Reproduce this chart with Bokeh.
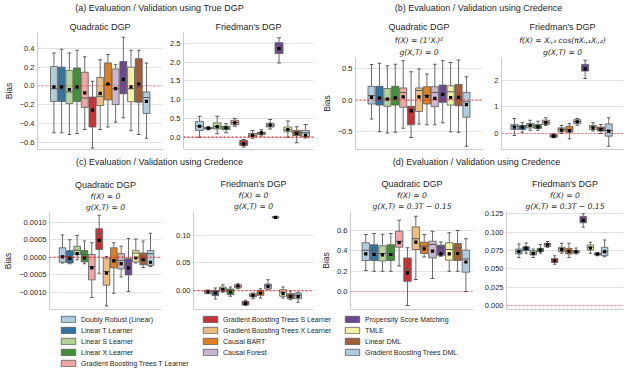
import colorsys
from bokeh.plotting import figure
from bokeh.layouts import column, row
from bokeh.models import (ColumnDataSource, Range1d, FixedTicker, Span,
                          Title, Legend, LegendItem)
from bokeh.embed import file_html
from bokeh.resources import INLINE

# ---------------- data ----------------
METHODS = ["Doubly Robust (Linear)", "Linear T Learner", "Linear S Learner", "Linear X Learner",
           "Gradient Boosting Trees T Learner", "Gradient Boosting Trees S Learner",
           "Gradient Boosting Trees X Learner", "Causal BART", "Causal Forest",
           "Propensity Score Matching", "TMLE", "Linear DML", "Gradient Boosting Trees DML"]
PAIRED = ["#a6cee3", "#1f78b4", "#b2df8a", "#33a02c", "#fb9a99", "#e31a1c", "#fdbf6f",
          "#ff7f00", "#cab2d6", "#6a3d9a", "#ffff99", "#b15928", "#a6cee3"]

SECTION_TITLES = ["(a) Evaluation / Validation using True DGP",
                  "(b) Evaluation / Validation using Credence",
                  "(c) Evaluation / Validation using Credence",
                  "(d) Evaluation / Validation using Credence"]

# (a) Quadratic DGP, true DGP
qa_lo = [-0.50, -0.50, -0.52, -0.51, -0.465, -0.665, -0.465, -0.44, -0.39, -0.34, -0.48, -0.52, -0.56]
qa_q1 = [-0.167, -0.167, -0.19, -0.167, -0.23, -0.44, -0.21, -0.15, -0.20, -0.085, -0.17, -0.175, -0.295]
qa_md = [-0.03, -0.035, -0.065, -0.03, -0.13, -0.25, -0.11, 0.015, -0.03, 0.045, -0.03, -0.01, -0.125]
qa_q3 = [0.207, 0.20, 0.165, 0.19, 0.145, -0.12, 0.09, 0.245, 0.18, 0.26, 0.20, 0.29, -0.065]
qa_hi = [0.35, 0.39, 0.35, 0.38, 0.31, 0.05, 0.28, 0.335, 0.225, 0.52, 0.38, 0.38, 0.245]
qa_mn = [-0.01, -0.01, -0.04, -0.01, -0.075, -0.26, -0.08, 0.02, -0.03, 0.07, -0.01, 0.02, -0.165]
qa_ticks = [-0.6, -0.4, -0.2, 0.0, 0.2, 0.4]
qa_labels = ["\u22120.6", "\u22120.4", "\u22120.2", "0.0", "0.2", "0.4"]

# (a) Friedman's DGP, true DGP
fa_lo = [0.0, 0.20, 0.09, 0.12, 0.29, -0.26, -0.03, 0.03, 0.22, 1.98, 0.0, -0.15, -0.02]
fa_q1 = [0.18, 0.22, 0.22, 0.20, 0.33, -0.22, 0.01, 0.07, 0.27, 2.23, 0.14, 0.04, 0.01]
fa_md = [0.29, 0.24, 0.28, 0.24, 0.39, -0.17, 0.05, 0.11, 0.32, 2.36, 0.20, 0.12, 0.12]
fa_q3 = [0.42, 0.26, 0.38, 0.29, 0.45, -0.09, 0.10, 0.13, 0.37, 2.52, 0.27, 0.18, 0.18]
fa_hi = [0.56, 0.27, 0.56, 0.36, 0.50, -0.06, 0.18, 0.20, 0.47, 2.65, 0.43, 0.28, 0.34]
fa_mn = [0.29, 0.24, 0.28, 0.25, 0.38, -0.18, 0.045, 0.115, 0.32, 2.36, 0.20, 0.10, 0.05]
fa_ticks = [0.0, 0.5, 1.0, 1.5, 2.0, 2.5]
fa_labels = ["0.0", "0.5", "1.0", "1.5", "2.0", "2.5"]

# (b) Quadratic DGP, Credence
qb_lo = [-0.30, -0.50, -0.52, -0.51, -0.445, -0.59, -0.38, -0.39, -0.39, -0.36, -0.50, -0.51, -0.73]
qb_q1 = [-0.063, -0.08, -0.10, -0.08, -0.115, -0.39, -0.18, -0.063, -0.105, -0.037, -0.08, -0.09, -0.27]
qb_md = [0.07, 0.04, 0.015, 0.035, 0.12, -0.14, 0.15, 0.07, 0.12, 0.094, 0.13, 0.015, -0.026]
qb_q3 = [0.215, 0.215, 0.18, 0.215, 0.19, -0.10, 0.19, 0.21, 0.21, 0.235, 0.225, 0.245, 0.12]
qb_hi = [0.56, 0.58, 0.54, 0.565, 0.62, 0.445, 0.49, 0.41, 0.565, 0.62, 0.59, 0.63, 0.365]
qb_mn = [0.04, 0.03, 0.015, 0.035, 0.05, -0.17, 0.05, 0.057, 0.026, 0.09, 0.037, 0.04, -0.073]
qb_ticks = [-0.5, 0.0, 0.5]
qb_labels = ["\u22120.5", "0.0", "0.5"]

# (b) Friedman's DGP, Credence
fb_lo = [-0.075, 0.05, 0.125, 0.125, 0.30, -0.16, 0.0, -0.20, 0.31, 2.06, 0.09, 0.0, -0.475]
fb_q1 = [0.15, 0.15, 0.21, 0.19, 0.34, -0.14, 0.06, 0.05, 0.37, 2.34, 0.15, 0.09, -0.10]
fb_md = [0.27, 0.25, 0.30, 0.27, 0.42, -0.10, 0.15, 0.15, 0.45, 2.46, 0.24, 0.175, 0.11]
fb_q3 = [0.34, 0.30, 0.375, 0.34, 0.50, -0.04, 0.21, 0.27, 0.52, 2.59, 0.30, 0.24, 0.36]
fb_hi = [0.56, 0.40, 0.50, 0.46, 0.59, -0.01, 0.30, 0.37, 0.56, 2.75, 0.40, 0.34, 0.59]
fb_mn = [0.24, 0.24, 0.30, 0.25, 0.41, -0.10, 0.125, 0.11, 0.44, 2.42, 0.21, 0.15, 0.09]
fb_ticks = [0, 1, 2]
fb_labels = ["0", "1", "2"]

# (c) Quadratic DGP, f=0, g=0
qc_lo = [-0.00016, -0.00018, -0.00007, -0.00018, -0.00114, -0.00045, -0.00138, -0.00102, -0.00056, -0.00097, -0.00016, -0.00029, -0.00026]
qc_q1 = [-0.00014, -0.00016, 0.00008, -0.00013, -0.00064, 0.00022, -0.00079, -0.00030, -0.00033, -0.00050, -0.00013, -0.00021, -0.00023]
qc_md = [0.00003, 0.00002, 0.00020, 0.00008, -0.00026, 0.00067, -0.00040, -0.00007, -0.00009, -0.00018, 0.00012, -0.00002, 0.00010]
qc_q3 = [0.00027, 0.00019, 0.00031, 0.00019, 0.00008, 0.00081, -0.00002, 0.00027, 0.000105, -0.00004, 0.00019, 0.00012, 0.00019]
qc_hi = [0.00063, 0.00050, 0.00062, 0.00046, 0.00041, 0.00119, 0.00002, 0.00041, 0.00031, 0.00053, 0.00052, 0.00046, 0.00068]
qc_mn = [0.00001, -0.00003, 0.000105, -0.00002, -0.00030, 0.00048, -0.00045, -0.00010, -0.00018, -0.00030, -0.00002, -0.00007, -0.00014]
qc_ticks = [-0.001, -0.0005, 0.0, 0.0005, 0.001]
qc_labels = ["\u22120.0010", "\u22120.0005", "0.0000", "0.0005", "0.0010"]

# (c) Friedman's DGP, f=0, g=0
fc_lo = [-0.0006, -0.015, -0.003, -0.0102, 0.0036, -0.027, -0.0145, -0.0133, 0.0018, 0.1313, -0.0133, -0.0163, -0.021]
fc_q1 = [-0.0054, -0.009, -0.0012, -0.0072, 0.0048, -0.0259, -0.0114, -0.0084, 0.003, 0.1315, -0.0102, -0.0145, -0.0145]
fc_md = [-0.0018, -0.003, 0.003, -0.0012, 0.0078, -0.0223, -0.0084, -0.0042, 0.009, 0.1325, -0.0024, -0.009, -0.0084]
fc_q3 = [0.0006, 0.0006, 0.0066, 0.003, 0.0108, -0.0193, -0.0054, 0.0006, 0.012, 0.1335, 0.0018, -0.0054, -0.0042]
fc_hi = [0.0012, 0.0048, 0.0108, 0.0066, 0.0127, -0.0175, -0.0042, 0.0036, 0.0199, 0.1337, 0.0066, -0.0012, -0.003]
fc_mn = [-0.0024, -0.0042, 0.0018, -0.0024, 0.0084, -0.0229, -0.0084, -0.0042, 0.0078, 0.1325, -0.0054, -0.0102, -0.0102]
fc_ticks = [0.0, 0.05, 0.10]
fc_labels = ["0.00", "0.05", "0.10"]

# (d) Quadratic DGP, f=0, g=0.3T-0.15
qd_lo = [0.207, 0.20, 0.20, 0.20, 0.25, -0.138, 0.118, 0.34, 0.128, 0.348, 0.20, 0.20, 0.0]
qd_q1 = [0.305, 0.305, 0.30, 0.305, 0.436, 0.10, 0.413, 0.374, 0.33, 0.357, 0.308, 0.305, 0.19]
qd_md = [0.407, 0.407, 0.374, 0.364, 0.495, 0.216, 0.518, 0.446, 0.462, 0.436, 0.413, 0.43, 0.32]
qd_q3 = [0.48, 0.46, 0.45, 0.46, 0.593, 0.33, 0.636, 0.485, 0.495, 0.456, 0.48, 0.472, 0.407]
qd_hi = [0.56, 0.57, 0.564, 0.57, 0.70, 0.43, 0.74, 0.56, 0.593, 0.488, 0.577, 0.60, 0.518]
qd_mn = [0.37, 0.364, 0.36, 0.364, 0.48, 0.184, 0.485, 0.42, 0.397, 0.37, 0.37, 0.374, 0.29]
qd_ticks = [0.0, 0.2, 0.4, 0.6]
qd_labels = ["0.0", "0.2", "0.4", "0.6"]

# (d) Friedman's DGP, f=0, g=0.3T-0.15
fd_lo = [0.0655, 0.0710, 0.0655, 0.0710, 0.0792, 0.0563, 0.0710, 0.0655, 0.0701, 0.1067, 0.0710, 0.0678, 0.0664]
fd_q1 = [0.0701, 0.0746, 0.0687, 0.0733, 0.0801, 0.0586, 0.0733, 0.0701, 0.0714, 0.1126, 0.0755, 0.0687, 0.0678]
fd_md = [0.0737, 0.0783, 0.0714, 0.0760, 0.0829, 0.0618, 0.0769, 0.0746, 0.0733, 0.1172, 0.0792, 0.0701, 0.0733]
fd_q3 = [0.0769, 0.0801, 0.0746, 0.0778, 0.0847, 0.0641, 0.0792, 0.0778, 0.0746, 0.1213, 0.0824, 0.0714, 0.0792]
fd_hi = [0.0838, 0.0852, 0.0769, 0.0829, 0.0870, 0.0678, 0.0847, 0.0847, 0.0783, 0.1250, 0.0861, 0.0723, 0.0893]
fd_mn = [0.0733, 0.0778, 0.0710, 0.0755, 0.0824, 0.0609, 0.0760, 0.0737, 0.0733, 0.1158, 0.0783, 0.0701, 0.0733]
fd_ticks = [0.0, 0.025, 0.05, 0.075, 0.1, 0.125]
fd_labels = ["0.000", "0.025", "0.050", "0.075", "0.100", "0.125"]

# ---------------- styling ----------------
FONT = "Liberation Sans"
MATH_FONT = "DejaVu Sans"
TXT = "#262626"
GRAY = "#5a5a5a"
N = len(METHODS)
POS = list(range(N))          # category slots along the x axis


def desat(hexc, prop=0.75):
    r, g, b = (int(hexc[i:i + 2], 16) / 255 for i in (1, 3, 5))
    h, l, s = colorsys.rgb_to_hls(r, g, b)
    r, g, b = colorsys.hls_to_rgb(h, l, s * prop)
    return "#%02x%02x%02x" % tuple(int(round(c * 255)) for c in (r, g, b))


COLORS = [desat(c) for c in PAIRED]


def no_align(p):
    try:
        p.frame_align = False
    except Exception:
        pass


def panel(w, h, borders, xr, yr, ticks, labels, stats, lines, ylabel, zero_alpha, pitch_standoff):
    bl, br, bt, bb = borders
    lo, q1, md, q3, hi, mn = stats
    p = figure(width=w, height=h, x_range=Range1d(*xr),
               y_range=Range1d(*yr), output_backend="svg", toolbar_location=None,
               min_border_left=bl, min_border_right=br, min_border_top=bt, min_border_bottom=bb,
               title=None)
    no_align(p)
    src = ColumnDataSource(dict(m=METHODS, x=POS, lo=lo, q1=q1, md=md, q3=q3, hi=hi, mn=mn, c=COLORS))
    p.segment(x0="x", y0="hi", x1="x", y1="q3", source=src, line_color=GRAY, line_width=0.9)
    p.segment(x0="x", y0="lo", x1="x", y1="q1", source=src, line_color=GRAY, line_width=0.9)
    p.rect(x="x", y="hi", width=0.45, height=1, height_units="screen", source=src,
           fill_color=GRAY, line_color=None)
    p.rect(x="x", y="lo", width=0.45, height=1, height_units="screen", source=src,
           fill_color=GRAY, line_color=None)
    p.vbar(x="x", width=0.9, bottom="q1", top="q3", source=src, fill_color="c",
           line_color=GRAY, line_width=0.8)
    p.rect(x="x", y="md", width=0.9, height=1, height_units="screen", source=src,
           fill_color=GRAY, line_color=None)
    p.scatter(x="x", y="mn", source=src, marker="square", size=3.2, fill_color="black",
              line_color=None)
    p.add_layout(Span(location=0, dimension="width", line_color="red", line_dash="2 2",
                      line_width=1.1, line_alpha=zero_alpha))

    for i, t in enumerate(reversed(lines)):
        is_math = i < len(lines) - 1
        p.add_layout(Title(text=t, align="center", text_font_size="7.6px" if is_math else "9px",
                           text_font=MATH_FONT if is_math else FONT,
                           text_font_style="italic" if is_math else "normal",
                           text_color=TXT, standoff=pitch_standoff if i > 0 else 1), "above")

    p.outline_line_color = None
    p.xgrid.visible = False
    p.ygrid.grid_line_color = "#e2e2e2"
    p.ygrid.grid_line_width = 1
    p.yaxis.ticker = FixedTicker(ticks=ticks)
    p.yaxis.major_label_overrides = {float(k): v for k, v in zip(ticks, labels)}
    p.yaxis.major_label_text_font = FONT
    p.yaxis.major_label_text_font_size = "7.5px"
    p.yaxis.major_label_text_color = TXT
    p.yaxis.major_tick_out = 0
    p.yaxis.major_tick_in = 0
    p.yaxis.minor_tick_line_color = None
    p.yaxis.major_label_standoff = 3
    p.yaxis.axis_line_color = "#cccccc"
    if ylabel:
        p.yaxis.axis_label = ylabel
        p.yaxis.axis_label_text_font = FONT
        p.yaxis.axis_label_text_font_size = "8.5px"
        p.yaxis.axis_label_text_font_style = "normal"
        p.yaxis.axis_label_text_color = TXT
        p.yaxis.axis_label_standoff = 3
    p.xaxis.ticker = FixedTicker(ticks=[])
    p.xaxis.minor_tick_line_color = None
    p.xaxis.major_tick_out = 0
    p.xaxis.major_label_standoff = 0
    p.xaxis.axis_line_color = "#cccccc"
    return p


def header(w, h, left, top, text):
    p = figure(width=w, height=h, x_range=Range1d(0, 1), y_range=Range1d(0, 1),
               output_backend="svg", toolbar_location=None, x_axis_location=None,
               y_axis_location=None, min_border=0, min_border_left=left, min_border_top=top,
               title=None)
    no_align(p)
    p.grid.visible = False
    p.outline_line_color = None
    p.add_layout(Title(text=text, align="center", text_font=FONT, text_font_size="9px",
                       text_font_style="normal", text_color=TXT, standoff=0), "above")
    return p


def legend_fig(w, h, left, idxs):
    p = figure(width=w, height=h, x_range=Range1d(0, 1), y_range=Range1d(0, 1),
               output_backend="svg", toolbar_location=None, x_axis_location=None,
               y_axis_location=None, min_border=0, min_border_left=left, min_border_top=2,
               title=None)
    no_align(p)
    p.grid.visible = False
    p.outline_line_color = None
    items = []
    for i in idxs:
        # one row with no value: nothing is drawn in the (invisible) frame, only the legend swatch
        r = p.vbar(x=[POS[i]], top=[float("nan")], width=1, fill_color=COLORS[i],
                   line_color=GRAY, line_width=0.8)
        items.append(LegendItem(label=METHODS[i], renderers=[r]))
    lg = Legend(items=items, location="top_left", orientation="vertical", margin=0, padding=0,
                spacing=3, glyph_width=18, glyph_height=8, label_height=8, label_width=10,
                label_standoff=4, label_text_font=FONT, label_text_font_size="7px",
                label_text_color=TXT, border_line_color=None, background_fill_alpha=0)
    p.add_layout(lg)
    return p


Q = "Quadratic DGP"
F = "Friedman's DGP"
G0 = "g(X,T) = 0"
GT = "g(X,T) = 0.3T \u2212 0.15"
F0 = "f(X) = 0"

ha = header(318, 14, 0, 0, SECTION_TITLES[0])
hb = header(306, 14, 14, 0, SECTION_TITLES[1])

qa = panel(166, 137, (30, 4, 18, 2), (-2.13, 14.08), (-0.68, 0.57), qa_ticks, qa_labels,
           (qa_lo, qa_q1, qa_md, qa_q3, qa_hi, qa_mn), [Q], "Bias", 0.35, 1)
fa = panel(152, 137, (17, 5, 18, 2), (-1.81, 12.9), (-0.33, 2.79), fa_ticks, fa_labels,
           (fa_lo, fa_q1, fa_md, fa_q3, fa_hi, fa_mn), [F], None, 0.9, 1)
qb = panel(166, 137, (32, 2, 43, 2), (-2.03, 14.03), (-0.78, 0.67), qb_ticks, qb_labels,
           (qb_lo, qb_q1, qb_md, qb_q3, qb_hi, qb_mn),
           [Q, "f(X) = (1\u1d40X\u1d62)\u00b2", G0], "Bias", 0.8, 1.8)
fb = panel(140, 137, (17, 1, 43, 2), (-1.64, 13.88), (-0.6, 2.85), fb_ticks, fb_labels,
           (fb_lo, fb_q1, fb_md, fb_q3, fb_hi, fb_mn),
           [F, "f(X) = X\u1d62,\u2083 cos(\u03c0X\u1d62,\u2081X\u1d62,\u2082)", G0], None, 0.5, 1.8)

hc = header(318, 16, 0, 15, SECTION_TITLES[2])
hd = header(306, 16, 10, 15, SECTION_TITLES[3])

qc = panel(168, 146, (45, 7, 45, 4), (-1.77, 13.5), (-0.00148, 0.00127), qc_ticks, qc_labels,
           (qc_lo, qc_q1, qc_md, qc_q3, qc_hi, qc_mn), [Q, F0, G0], "Bias", 0.9, 0)
fc = panel(150, 146, (25, 5, 44, 4), (-1.91, 14.05), (-0.034, 0.143), fc_ticks, fc_labels,
           (fc_lo, fc_q1, fc_md, fc_q3, fc_hi, fc_mn), [F, F0, G0], None, 0.9, 0)
qd = panel(158, 146, (27, 3, 44, 4), (-1.83, 12.91), (-0.177, 0.787), qd_ticks, qd_labels,
           (qd_lo, qd_q1, qd_md, qd_q3, qd_hi, qd_mn), [Q, F0, GT], "Bias", 0.4, 0)
fd = panel(148, 146, (30, 1, 44, 4), (-1.74, 14.64), (-0.0055, 0.128), fd_ticks, fd_labels,
           (fd_lo, fd_q1, fd_md, fd_q3, fd_hi, fd_mn), [F, F0, GT], None, 0.4, 0)

l1 = legend_fig(201, 60, 59, [0, 1, 2, 3, 4])
l2 = legend_fig(142, 60, 0, [5, 6, 7, 8])
l3 = legend_fig(281, 60, 0, [9, 10, 11, 12])

layout = column(row(ha, hb), row(qa, fa, qb, fb), row(hc, hd), row(qc, fc, qd, fd),
                row(l1, l2, l3))

with open("out.html", "w") as f:
    f.write(file_html(layout, INLINE))
